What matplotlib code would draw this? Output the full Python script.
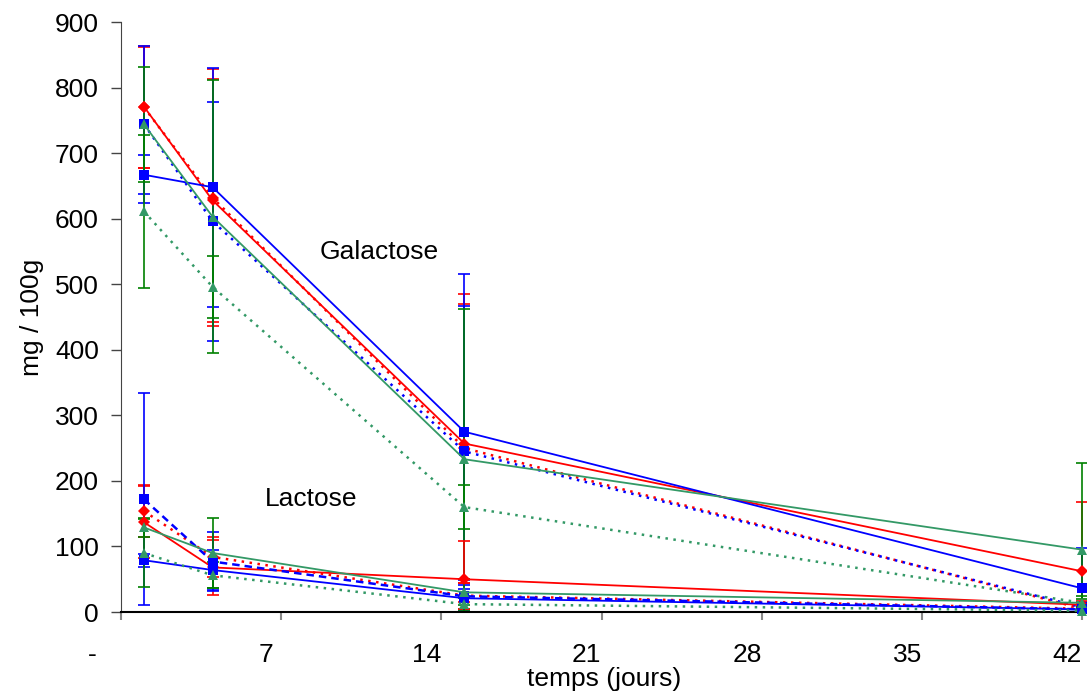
import matplotlib
matplotlib.use("Agg")
from matplotlib import pyplot as plt
from matplotlib import transforms

plt.rcParams['font.family'] = ['Liberation Sans', 'DejaVu Sans']

jours = [1, 4, 15, 42]
x_ticks = [0, 7, 14, 21, 28, 35, 42]
x_labels = ['-', '7', '14', '21', '28', '35', '42']

# galactose (mg / 100g)
gal_rouge = [771, 628, 257, 62]
gal_rouge_err = [93, 185, 213, 106]
gal_rouge_pt = [770, 632, 250, 5]
gal_rouge_pt_err = [92, 196, 235, 8]
gal_bleu = [667, 648, 275, 36]
gal_bleu_err = [30, 182, 240, 61]
gal_bleu_pt = [744, 596, 245, 7]
gal_bleu_pt_err = [120, 182, 222, 8]
gal_vert = [744, 603, 233, 95]
gal_vert_err = [88, 208, 229, 132]
gal_vert_pt = [611, 496, 160, 14]
gal_vert_pt_err = [116, 47, 33, 10]

# lactose (mg / 100g)
lac_rouge = [137, 68, 50, 11]
lac_rouge_err = [55, 42, 58, 6]
lac_rouge_pt = [154, 84, 25, 5]
lac_rouge_pt_err = [40, 30, 20, 5]
lac_bleu = [79, 64, 21, 4]
lac_bleu_err = [10, 30, 20, 4]
lac_bleu_pt = [172, 77, 24, 4]
lac_bleu_pt_err = [162, 45, 25, 4]
lac_vert = [129, 90, 30, 14]
lac_vert_err = [15, 53, 20, 6]
lac_vert_pt = [90, 56, 12, 2]
lac_vert_pt_err = [52, 20, 10, 3]

ROUGE = '#FF0000'
BLEU = '#0000FF'
VERT = '#339966'
VERT_ERR = '#008000'

dots = (0, (1, 2.2))
dashes = (0, (3, 2))

series = [
    (gal_rouge, gal_rouge_err, ROUGE, ROUGE, 'D', '-'),
    (gal_rouge_pt, gal_rouge_pt_err, ROUGE, ROUGE, 'D', dots),
    (gal_bleu, gal_bleu_err, BLEU, BLEU, 's', '-'),
    (gal_bleu_pt, gal_bleu_pt_err, BLEU, BLEU, 's', dots),
    (gal_vert, gal_vert_err, VERT, VERT_ERR, '^', '-'),
    (gal_vert_pt, gal_vert_pt_err, VERT, VERT_ERR, '^', dots),
    (lac_rouge, lac_rouge_err, ROUGE, ROUGE, 'D', '-'),
    (lac_rouge_pt, lac_rouge_pt_err, ROUGE, ROUGE, 'D', dots),
    (lac_bleu, lac_bleu_err, BLEU, BLEU, 's', '-'),
    (lac_bleu_pt, lac_bleu_pt_err, BLEU, BLEU, 's', dashes),
    (lac_vert, lac_vert_err, VERT, VERT_ERR, '^', '-'),
    (lac_vert_pt, lac_vert_pt_err, VERT, VERT_ERR, '^', dots),
]

fig = plt.figure(figsize=(10.87, 6.92), dpi=100)
ax = fig.add_axes([121 / 1087, 1 - 612 / 692, 966 / 1087, 590 / 692])

sizes = {'D': 6.5, 's': 6.5, '^': 7.5}
for vals, errs, col, ecol, mk, ls in series:
    # error bars first, then line + markers
    ax.errorbar(jours, vals, yerr=errs, fmt='none', ecolor=ecol,
                elinewidth=1.2, capsize=4, capthick=1.2, zorder=2)
    lw = 1.8 if ls != '-' else 1.3
    ax.plot(jours, vals, color=col, linestyle=ls, linewidth=lw,
            marker=mk, markersize=sizes[mk], markeredgewidth=0, zorder=3,
            clip_on=False)

ax.text(11.3, 549, 'Galactose', fontsize=19, ha='center', va='center')
ax.text(8.3, 172, 'Lactose', fontsize=19, ha='center', va='center')

ax.set_xlim(0, 42.2)
ax.set_ylim(0, 900)
ax.set_yticks(range(0, 901, 100))
ax.set_xticks(x_ticks)
ax.set_xticklabels(x_labels)

for s in ['top', 'right']:
    ax.spines[s].set_visible(False)
ax.spines['left'].set_color('#444444')
ax.spines['bottom'].set_linewidth(1.5)

ax.tick_params(axis='y', labelsize=19, length=7, width=1, pad=9, color='#444444')
ax.tick_params(axis='x', labelsize=19, length=6, width=1.5, pad=16, color='#888888')

for i, lab in enumerate(ax.get_xticklabels()):
    dx = -29 if i == 0 else -15
    lab.set_transform(lab.get_transform() +
                      transforms.ScaledTranslation(dx / 100, 0, fig.dpi_scale_trans))

ax.set_xlabel('temps (jours)', fontsize=19, labelpad=0)
ax.set_ylabel('mg / 100g', fontsize=19, labelpad=8)

plt.savefig('out.png', dpi=100)
